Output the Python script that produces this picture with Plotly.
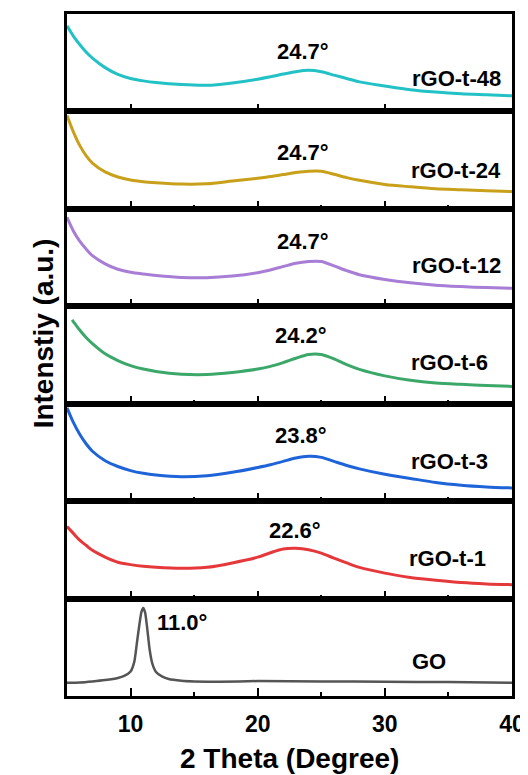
import plotly.graph_objects as go
from plotly.subplots import make_subplots

# 2-theta grid (degrees) for the rGO traces
two_theta = [5, 5.5, 6, 6.5, 7, 8, 9, 10, 11, 12, 14, 16, 18, 20, 21, 22, 23, 24, 25, 26, 27, 28, 30, 32, 34, 36, 38, 40]
two_theta_t6 = [5.4] + two_theta[1:]

# intensities (a.u.)
rgo_t_48 = [252, 222, 197, 175, 157, 129, 109, 97, 90, 85, 79, 77, 84, 95, 102, 110, 117, 121, 117, 107, 97, 87, 75, 64, 57, 52, 49, 46]
rgo_t_24 = [275, 227, 187, 157, 135, 109, 94, 85, 80, 77, 73, 74, 82, 90, 95, 101, 107, 111, 111, 102, 92, 84, 72, 65, 59, 56, 53, 51]
rgo_t_12 = [262, 222, 192, 169, 149, 125, 109, 100, 95, 91, 85, 84, 89, 99, 107, 117, 127, 132, 132, 119, 105, 93, 79, 69, 62, 58, 55, 53]
rgo_t_6 = [247, 242, 217, 195, 177, 147, 127, 112, 102, 95, 87, 86, 92, 102, 110, 121, 134, 145, 145, 132, 115, 101, 82, 69, 61, 57, 54, 51]
rgo_t_3 = [275, 232, 197, 169, 147, 119, 102, 90, 82, 77, 72, 75, 85, 99, 107, 117, 127, 132, 129, 117, 105, 95, 79, 67, 55, 47, 42, 39]
rgo_t_1 = [212, 192, 172, 157, 142, 122, 107, 100, 95, 92, 89, 92, 105, 122, 135, 146, 148, 144, 134, 119, 105, 92, 75, 62, 54, 47, 43, 41]

go_theta = [5, 6, 7, 8, 9, 9.5, 10, 10.3, 10.5, 10.7, 10.85, 11, 11.15, 11.3, 11.5, 11.7, 12, 12.5, 13, 14, 15, 17, 20, 25, 30, 35, 40]
go_int = [39, 40, 43, 47, 53, 59, 72, 102, 157, 212, 247, 259, 245, 202, 137, 97, 71, 57, 50, 45, 43, 42, 44, 43, 42, 41, 39]

names = ["rGO-t-48", "rGO-t-24", "rGO-t-12", "rGO-t-6", "rGO-t-3", "rGO-t-1", "GO"]
peak_labels = ["24.7°", "24.7°", "24.7°", "24.2°", "23.8°", "22.6°", "11.0°"]
colors = ["#22C1C6", "#C9A01A", "#A77DD6", "#3BA86A", "#1E64D8", "#E5383B", "#555555"]

xs = [two_theta, two_theta, two_theta, two_theta_t6, two_theta, two_theta, go_theta]
ys = [rgo_t_48, rgo_t_24, rgo_t_12, rgo_t_6, rgo_t_3, rgo_t_1, go_int]

# label anchor positions (data coords)
peak_pos = [(23.6, 177), (23.6, 167), (23.6, 192), (23.4, 202), (23.4, 192), (22.9, 202), (11.95, 217)]
name_pos = [(39.3, 97), (39.3, 112), (39.3, 120), (38.3, 122), (38.3, 117), (38.1, 117), (33.5, 102)]

FONT = "Arial, Liberation Sans, sans-serif"

fig = make_subplots(rows=7, cols=1, shared_xaxes=True, vertical_spacing=0)

for i in range(7):
    fig.add_trace(go.Scatter(
        x=xs[i], y=ys[i], mode="lines",
        line=dict(color=colors[i], width=3 if i < 6 else 2.5, shape="spline", smoothing=0.8 if i < 6 else 0.5),
        showlegend=False, name=names[i]), row=i + 1, col=1)
    xa = "x" if i == 0 else f"x{i+1}"
    ya = "y" if i == 0 else f"y{i+1}"
    px, py = peak_pos[i]
    fig.add_annotation(x=px, y=py, xref=xa, yref=ya, text=f"<b>{peak_labels[i]}</b>",
                       showarrow=False, xanchor="left" if i == 6 else "center", yanchor="middle",
                       font=dict(family=FONT, size=22, color="black"))
    nx, ny = name_pos[i]
    fig.add_annotation(x=nx, y=ny, xref=xa, yref=ya, text=f"<b>{names[i]}</b>",
                       showarrow=False, xanchor="center" if i == 6 else "right", yanchor="middle",
                       font=dict(family=FONT, size=22, color="black"))

for i in range(7):
    fig.update_xaxes(range=[5, 40], showline=True, linecolor="black", linewidth=2.5, mirror=True,
                     ticks="inside", ticklen=8, tickwidth=2, tickcolor="black",
                     tick0=0, dtick=10, showgrid=False, zeroline=False,
                     minor=dict(ticks="inside", ticklen=4, tickwidth=2, tickcolor="black", dtick=5, tick0=0, showgrid=False),
                     showticklabels=(i == 6),
                     tickfont=dict(family=FONT, size=23, color="black", weight="bold"),
                     row=i + 1, col=1)
    fig.update_yaxes(range=[0, 287], showline=True, linecolor="black", linewidth=2.5, mirror=True,
                     showticklabels=False, ticks="", showgrid=False, zeroline=False,
                     row=i + 1, col=1)

fig.update_xaxes(ticklabelstandoff=6, row=7, col=1)

fig.add_annotation(x=0.5, y=0.0, xref="paper", yref="paper", yshift=-62,
                   text="<b>2 Theta (Degree)</b>", showarrow=False, yanchor="middle",
                   font=dict(family=FONT, size=28, color="black"))

fig.add_annotation(x=0.0, y=0.531, xref="paper", yref="paper", xshift=-41,
                   text="<b>Intenstiy (a.u.)</b>", textangle=-90, showarrow=False,
                   font=dict(family=FONT, size=28, color="black"))

fig.update_layout(width=520, height=767, margin=dict(l=59, r=15, t=3, b=79),
                  paper_bgcolor="white", plot_bgcolor="white")

fig.write_html("out.html")
